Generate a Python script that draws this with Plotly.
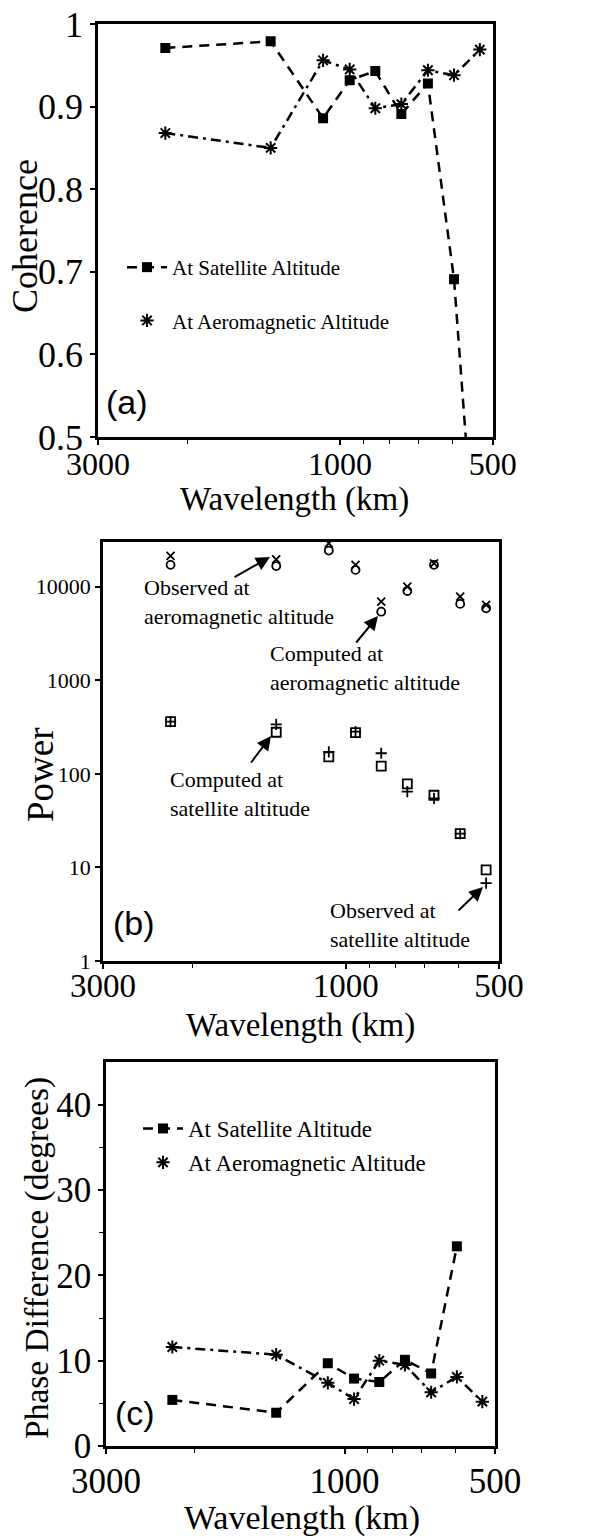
import math
import plotly.graph_objects as go

# ---------------- data ----------------
wavelength = [2210, 1370, 1080, 957, 852, 757, 671, 596, 530]

coh_sat = [0.971, 0.979, 0.886, 0.932, 0.943, 0.891, 0.928, 0.691, 0.27]
coh_aero = [0.868, 0.850, 0.956, 0.945, 0.898, 0.903, 0.944, 0.938, 0.969]

pow_obs_aero = [21300, 19600, 29000, 17100, 6920, 10000, 17700, 7820, 6370]
pow_comp_aero = [17100, 16600, 24300, 15100, 5400, 8990, 17100, 6540, 5870]
pow_comp_sat = [361, 278, 152, 275, 121, 78, 59, 23, 9.4]
pow_obs_sat = [361, 338, 172, 282, 166, 64.5, 54.7, 23, 6.8]

ph_sat = [5.4, 3.9, 9.7, 7.9, 7.5, 10.1, 8.5, 23.4, None]
ph_aero = [11.6, 10.7, 7.4, 5.5, 10.0, 9.5, 6.3, 8.1, 5.2]

x_ticks = [3000, 1000, 500]
x_minor = [2000, 900, 800, 700, 600]
coh_ticks = [0.5, 0.6, 0.7, 0.8, 0.9, 1.0]
coh_ticktext = ["0.5", "0.6", "0.7", "0.8", "0.9", "1"]
pow_ticks = [1, 10, 100, 1000, 10000]
ph_ticks = [0, 10, 20, 30, 40]
ph_minor = [5, 15, 25, 35]

# the page body has an 8px margin: the figure is sized to fit the window
OFF = 8
W, H = 606 - OFF, 1536 - OFF
SERIF = "Liberation Serif"
SANS = "Liberation Sans"


def px(x):
    return (x - OFF) / W


def py(y):
    return 1 - (y - OFF) / H


fig = go.Figure()

sat_line = dict(color="black", width=2.5, dash="10px,7px")
aero_line = dict(color="black", width=2.5, dash="10px,5px,3px,5px")
sq_marker = dict(symbol="square", size=10, color="black")
star_marker = dict(symbol="asterisk-open", size=11, color="black",
                   line=dict(color="black", width=2))

# ---- panel (a)
fig.add_trace(go.Scatter(x=wavelength, y=coh_sat, mode="lines+markers", line=sat_line,
                         marker=sq_marker, xaxis="x", yaxis="y", showlegend=False))
fig.add_trace(go.Scatter(x=wavelength, y=coh_aero, mode="lines+markers", line=aero_line,
                         marker=star_marker, xaxis="x", yaxis="y", showlegend=False))
fig.add_trace(go.Scatter(x=[None], y=[None], mode="lines+markers", line=sat_line,
                         marker=sq_marker, xaxis="x", yaxis="y", name="At Satellite Altitude",
                         legend="legend", legendgroup="a1"))
fig.add_trace(go.Scatter(x=[None], y=[None], mode="markers",
                         marker=star_marker, xaxis="x", yaxis="y", name="At Aeromagnetic Altitude",
                         legend="legend", legendgroup="a2"))

# ---- panel (b)
fig.add_trace(go.Scatter(x=wavelength, y=pow_obs_aero, mode="markers", xaxis="x2", yaxis="y2",
                         marker=dict(symbol="x-thin-open", size=8, color="black",
                                     line=dict(color="black", width=1.8)),
                         showlegend=False, name="Observed at aeromagnetic altitude"))
fig.add_trace(go.Scatter(x=wavelength, y=pow_comp_aero, mode="markers", xaxis="x2", yaxis="y2",
                         marker=dict(symbol="circle-open", size=8, color="black",
                                     line=dict(color="black", width=1.8)),
                         showlegend=False, name="Computed at aeromagnetic altitude"))
fig.add_trace(go.Scatter(x=wavelength, y=pow_comp_sat, mode="markers", xaxis="x2", yaxis="y2",
                         marker=dict(symbol="square-open", size=9, color="black",
                                     line=dict(color="black", width=1.8)),
                         showlegend=False, name="Computed at satellite altitude"))
fig.add_trace(go.Scatter(x=wavelength, y=pow_obs_sat, mode="markers", xaxis="x2", yaxis="y2",
                         marker=dict(symbol="cross-thin-open", size=8, color="black",
                                     line=dict(color="black", width=1.8)),
                         showlegend=False, name="Observed at satellite altitude"))

# ---- panel (c)
fig.add_trace(go.Scatter(x=wavelength, y=ph_sat, mode="lines+markers", line=sat_line,
                         marker=sq_marker, xaxis="x3", yaxis="y3", showlegend=False))
fig.add_trace(go.Scatter(x=wavelength, y=ph_aero, mode="lines+markers", line=aero_line,
                         marker=star_marker, xaxis="x3", yaxis="y3", showlegend=False))
fig.add_trace(go.Scatter(x=[None], y=[None], mode="lines+markers", line=sat_line,
                         marker=sq_marker, xaxis="x3", yaxis="y3", name="At Satellite Altitude",
                         legend="legend2", legendgroup="c1"))
fig.add_trace(go.Scatter(x=[None], y=[None], mode="markers",
                         marker=star_marker, xaxis="x3", yaxis="y3", name="At Aeromagnetic Altitude",
                         legend="legend2", legendgroup="c2"))

xr = [math.log10(3000), math.log10(500)]


def xaxis(dom, font_size, anchor, standoff):
    return dict(domain=dom, type="log", range=xr, tickvals=x_ticks, automargin=False,
                ticktext=[str(v) for v in x_ticks], ticks="outside", ticklen=5, tickwidth=1.5,
                tickcolor="black", showline=True, linecolor="black", linewidth=2.5, mirror=True,
                showgrid=False, zeroline=False, anchor=anchor, ticklabelstandoff=standoff,
                ticklabeloverflow="allow",
                tickfont=dict(family=SERIF, size=font_size, color="black"),
                minor=dict(tickvals=x_minor, ticks="outside", ticklen=4, tickwidth=1.2,
                           tickcolor="black", showgrid=False))


def yaxis_base(dom, anchor, font_size):
    return dict(domain=dom, anchor=anchor, ticks="outside", ticklen=5, tickwidth=1.5,
                tickcolor="black", showline=True, linecolor="black", linewidth=2.5, mirror=True,
                showgrid=False, zeroline=False, automargin=False, ticklabeloverflow="allow",
                tickfont=dict(family=SERIF, size=font_size, color="black"))


ya = yaxis_base([py(437), py(24)], "x", 36)
ya.update(range=[0.5, 1.0], tickvals=coh_ticks, ticktext=coh_ticktext)
yb = yaxis_base([py(961), py(542)], "x2", 22)
yb.update(type="log", range=[0, math.log10(30000)], tickvals=pow_ticks,
          ticktext=[str(v) for v in pow_ticks])
yc = yaxis_base([py(1446), py(1062)], "x3", 35)
yc.update(range=[0, 45], tickvals=ph_ticks, ticktext=[str(v) for v in ph_ticks],
          minor=dict(tickvals=ph_minor, ticks="outside", ticklen=4, tickwidth=1.2,
                     tickcolor="black", showgrid=False))

fig.update_layout(
    template="none",
    width=W, height=H, margin=dict(l=0, r=0, t=0, b=0, autoexpand=False),
    paper_bgcolor="white", plot_bgcolor="white",
    xaxis=xaxis([px(98), px(492.7)], 32, "y", -8),
    xaxis2=xaxis([px(103), px(499)], 33, "y2", -11),
    xaxis3=xaxis([px(106), px(495)], 35, "y3", -3),
    yaxis=ya, yaxis2=yb, yaxis3=yc,
    legend=dict(x=px(122), y=py(247), xanchor="left", yanchor="top",
                bgcolor="rgba(0,0,0,0)", font=dict(family=SERIF, size=21, color="black"),
                tracegroupgap=23, itemwidth=40),
    legend2=dict(x=px(138), y=py(1107), xanchor="left", yanchor="top",
                 bgcolor="rgba(0,0,0,0)", font=dict(family=SERIF, size=23, color="black"),
                 tracegroupgap=1, itemwidth=40),
)

ann = []


def title(text, x, y, size, angle=0):
    ann.append(dict(text=text, x=px(x), y=py(y), xref="paper", yref="paper", showarrow=False,
                    xanchor="center", yanchor="middle", textangle=angle,
                    font=dict(family=SERIF, size=size, color="black")))


title("Coherence", 25, 236, 36, -90)
title("Wavelength (km)", 294, 500, 33)
title("Power", 41, 775, 37, -90)
title("Wavelength (km)", 300, 1025, 33)
title("Phase Difference (degrees)", 37, 1258, 33.5, -90)
title("Wavelength (km)", 302, 1518, 34)


def panel_label(text, x, y):
    ann.append(dict(text=text, x=px(x), y=py(y), xref="paper", yref="paper", showarrow=False,
                    xanchor="left", yanchor="middle",
                    font=dict(family=SANS, size=34, color="black")))


panel_label("(a)", 104, 402)
panel_label("(b)", 111, 923)
panel_label("(c)", 113, 1413)


def note(text, x, y):
    ann.append(dict(text=text, x=px(x), y=py(y), xref="paper", yref="paper", showarrow=False,
                    xanchor="left", yanchor="middle", align="left",
                    font=dict(family=SERIF, size=22, color="black")))


def arrow(tipx, tipy, tailx, taily):
    ann.append(dict(text="", x=px(tipx), y=py(tipy), xref="paper", yref="paper",
                    showarrow=True, ax=tailx - tipx, ay=taily - tipy, arrowhead=2,
                    arrowsize=1.4, arrowwidth=2, arrowcolor="black", standoff=0))


note("Observed at<br>aeromagnetic altitude", 142, 602)
note("Computed at<br>aeromagnetic altitude", 268, 668)
note("Computed at<br>satellite altitude", 168, 794)
note("Observed at<br>satellite altitude", 328, 925)
arrow(270, 557, 233, 578)
arrow(378, 616, 355, 644)
arrow(271, 736, 250, 764)
arrow(483, 887, 457, 912)

fig.update_layout(annotations=ann)
fig.write_html("out.html")
